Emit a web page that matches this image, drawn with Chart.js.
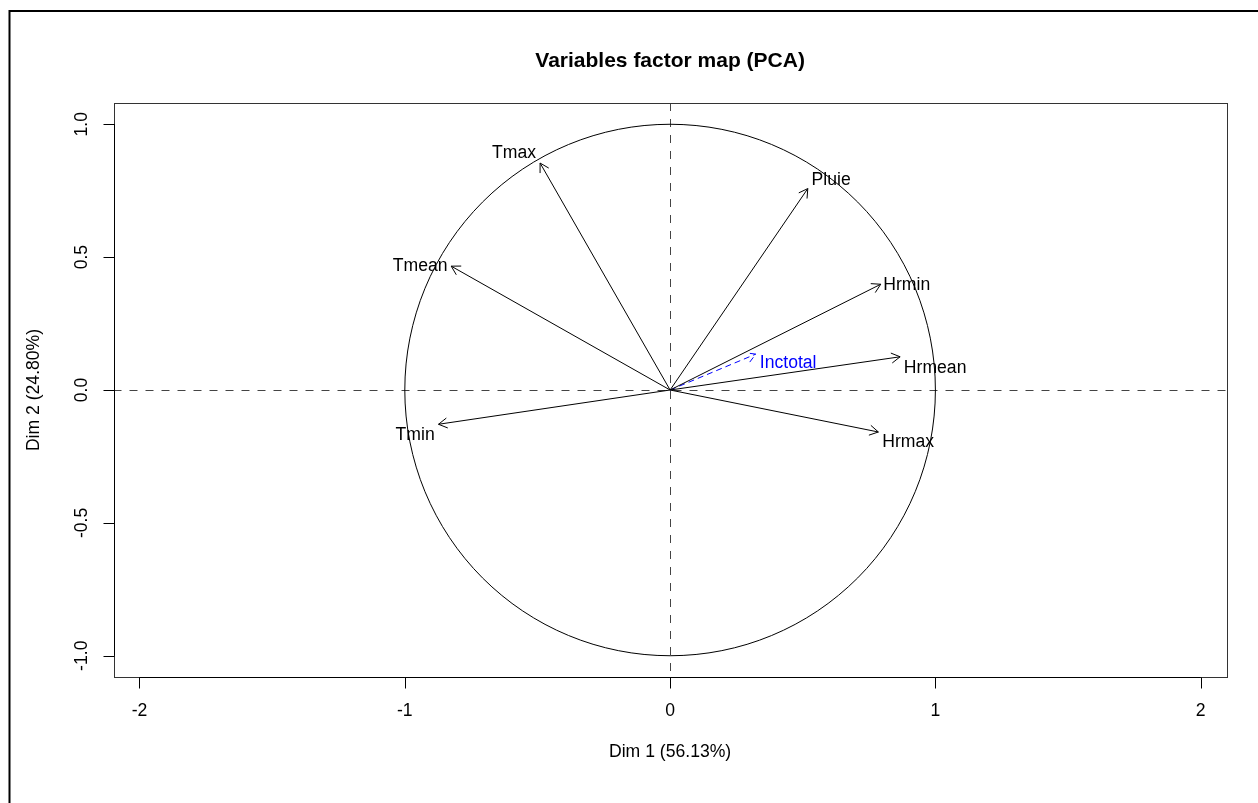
<!DOCTYPE html>
<html>
<head>
<meta charset="utf-8">
<script src="https://cdn.jsdelivr.net/npm/chart.js@4.4.1/dist/chart.umd.min.js"></script>
<style>
  html, body { margin: 0; padding: 0; background: #fff; }
  #wrap { width: 1258px; height: 803px; position: relative; }
</style>
</head>
<body>
<div id="wrap"><canvas id="c" width="1258" height="803"></canvas></div>
<script>
// ---- data ----
const variables = ['Tmax', 'Pluie', 'Tmean', 'Hrmin', 'Hrmean', 'Inctotal', 'Tmin', 'Hrmax'];
const dim1 = [-0.490, 0.519, -0.825, 0.794, 0.867, 0.323, -0.873, 0.785];
const dim2 = [0.854, 0.758, 0.466, 0.398, 0.125, 0.135, -0.129, -0.158];
const labelDim1 = [-0.588, 0.607, -0.942, 0.892, 0.999, 0.445, -0.961, 0.897];
const labelDim2 = [0.891, 0.789, 0.466, 0.394, 0.082, 0.101, -0.170, -0.195];
const supplementary = [false, false, false, false, false, true, false, false];
const xTicks = [-2, -1, 0, 1, 2];
const yTicks = [-1.0, -0.5, 0.0, 0.5, 1.0];
const yTickLabels = ['-1.0', '-0.5', '0.0', '0.5', '1.0'];
const xTickLabels = ['-2', '-1', '0', '1', '2'];
const titleText = 'Variables factor map (PCA)';
const xTitle = 'Dim 1 (56.13%)';
const yTitle = 'Dim 2 (24.80%)';

const FONT = '"Liberation Sans", Arial, Helvetica, sans-serif';
const BASE = 17.6;

const datasets = variables.map((v, i) => ({
  label: v,
  data: [{x: 0, y: 0}, {x: dim1[i], y: dim2[i]}],
  showLine: true,
  borderColor: supplementary[i] ? '#0000ff' : '#000000',
  borderWidth: 1,
  borderDash: supplementary[i] ? [6, 4] : [],
  pointRadius: 0,
  pointHoverRadius: 0,
  fill: false
}));

const decor = {
  id: 'decor',
  beforeDraw(chart) {
    const ctx = chart.ctx;
    ctx.save();
    ctx.fillStyle = '#fff';
    ctx.fillRect(0, 0, chart.width, chart.height);
    // outer frame
    ctx.strokeStyle = '#000';
    ctx.lineWidth = 2;
    ctx.strokeRect(9.5, 11, 1400, 1000);
    ctx.restore();
  },
  beforeDatasetsDraw(chart) {
    const ctx = chart.ctx, xs = chart.scales.x, ys = chart.scales.y, a = chart.chartArea;
    const cx = xs.getPixelForValue(0), cy = ys.getPixelForValue(0);
    ctx.save();
    // reference dashed lines
    ctx.strokeStyle = '#444';
    ctx.lineWidth = 1;
    ctx.setLineDash([8, 8]);
    ctx.beginPath();
    ctx.moveTo(a.left, Math.round(cy) + 0.5);
    ctx.lineTo(a.right, Math.round(cy) + 0.5);
    ctx.moveTo(Math.round(cx) + 0.5, a.top);
    ctx.lineTo(Math.round(cx) + 0.5, a.bottom);
    ctx.stroke();
    ctx.setLineDash([]);
    // unit circle
    const rx = xs.getPixelForValue(1) - cx;
    const ry = cy - ys.getPixelForValue(1);
    ctx.strokeStyle = '#000';
    ctx.beginPath();
    ctx.ellipse(cx, cy, rx, ry, 0, 0, Math.PI * 2);
    ctx.stroke();
    ctx.restore();
  },
  afterDatasetsDraw(chart) {
    const ctx = chart.ctx, xs = chart.scales.x, ys = chart.scales.y, a = chart.chartArea;
    const ox = xs.getPixelForValue(0), oy = ys.getPixelForValue(0);
    ctx.save();
    // arrow heads
    variables.forEach((v, i) => {
      const tx = xs.getPixelForValue(dim1[i]), ty = ys.getPixelForValue(dim2[i]);
      const ang = Math.atan2(ty - oy, tx - ox);
      const L = 10, h = Math.PI / 6;
      ctx.strokeStyle = supplementary[i] ? '#0000ff' : '#000';
      ctx.lineWidth = 1;
      ctx.setLineDash(supplementary[i] ? [6, 4] : []);
      ctx.beginPath();
      ctx.moveTo(tx - L * Math.cos(ang - h), ty - L * Math.sin(ang - h));
      ctx.lineTo(tx, ty);
      ctx.lineTo(tx - L * Math.cos(ang + h), ty - L * Math.sin(ang + h));
      ctx.stroke();
    });
    ctx.setLineDash([]);
    // variable labels
    ctx.font = BASE + 'px ' + FONT;
    ctx.textAlign = 'center';
    ctx.textBaseline = 'middle';
    variables.forEach((v, i) => {
      ctx.fillStyle = supplementary[i] ? '#0000ff' : '#000';
      ctx.fillText(v, xs.getPixelForValue(labelDim1[i]), ys.getPixelForValue(labelDim2[i]));
    });
    // plot box
    ctx.strokeStyle = '#333';
    ctx.lineWidth = 1;
    ctx.strokeRect(Math.round(a.left) + 0.5, Math.round(a.top) + 0.5,
                   Math.round(a.right - a.left), Math.round(a.bottom - a.top));
    // x axis
    ctx.strokeStyle = '#000';
    const bx = Math.round(a.bottom) + 0.5;
    ctx.beginPath();
    ctx.moveTo(xs.getPixelForValue(xTicks[0]), bx);
    ctx.lineTo(xs.getPixelForValue(xTicks[xTicks.length - 1]), bx);
    xTicks.forEach(t => {
      const px = Math.round(xs.getPixelForValue(t)) + 0.5;
      ctx.moveTo(px, bx);
      ctx.lineTo(px, bx + 11);
    });
    ctx.stroke();
    ctx.fillStyle = '#000';
    ctx.font = BASE + 'px ' + FONT;
    ctx.textAlign = 'center';
    ctx.textBaseline = 'middle';
    xTicks.forEach((t, k) => ctx.fillText(xTickLabels[k], xs.getPixelForValue(t), 711));
    ctx.fillText(xTitle, (a.left + a.right) / 2, 752);
    // y axis
    const lx = Math.round(a.left) + 0.5;
    ctx.beginPath();
    ctx.moveTo(lx, ys.getPixelForValue(yTicks[0]));
    ctx.lineTo(lx, ys.getPixelForValue(yTicks[yTicks.length - 1]));
    yTicks.forEach(t => {
      const py = Math.round(ys.getPixelForValue(t)) + 0.5;
      ctx.moveTo(lx, py);
      ctx.lineTo(lx - 11, py);
    });
    ctx.stroke();
    yTicks.forEach((t, k) => {
      ctx.save();
      ctx.translate(82, ys.getPixelForValue(t));
      ctx.rotate(-Math.PI / 2);
      ctx.fillText(yTickLabels[k], 0, 0);
      ctx.restore();
    });
    ctx.save();
    ctx.translate(34, (a.top + a.bottom) / 2);
    ctx.rotate(-Math.PI / 2);
    ctx.fillText(yTitle, 0, 0);
    ctx.restore();
    // main title
    ctx.font = 'bold 21px ' + FONT;
    ctx.fillText(titleText, (a.left + a.right) / 2, 61);
    ctx.restore();
  }
};

new Chart(document.getElementById('c'), {
  type: 'scatter',
  data: { datasets },
  options: {
    responsive: false,
    animation: false,
    devicePixelRatio: 1,
    layout: { padding: { left: 113.5, right: 31.3, top: 103, bottom: 126 } },
    plugins: { legend: { display: false }, tooltip: { enabled: false }, title: { display: false } },
    events: [],
    scales: {
      x: { type: 'linear', min: -2.098, max: 2.098, display: false },
      y: { type: 'linear', min: -1.08, max: 1.08, display: false }
    }
  },
  plugins: [decor]
});
</script>
</body>
</html>
